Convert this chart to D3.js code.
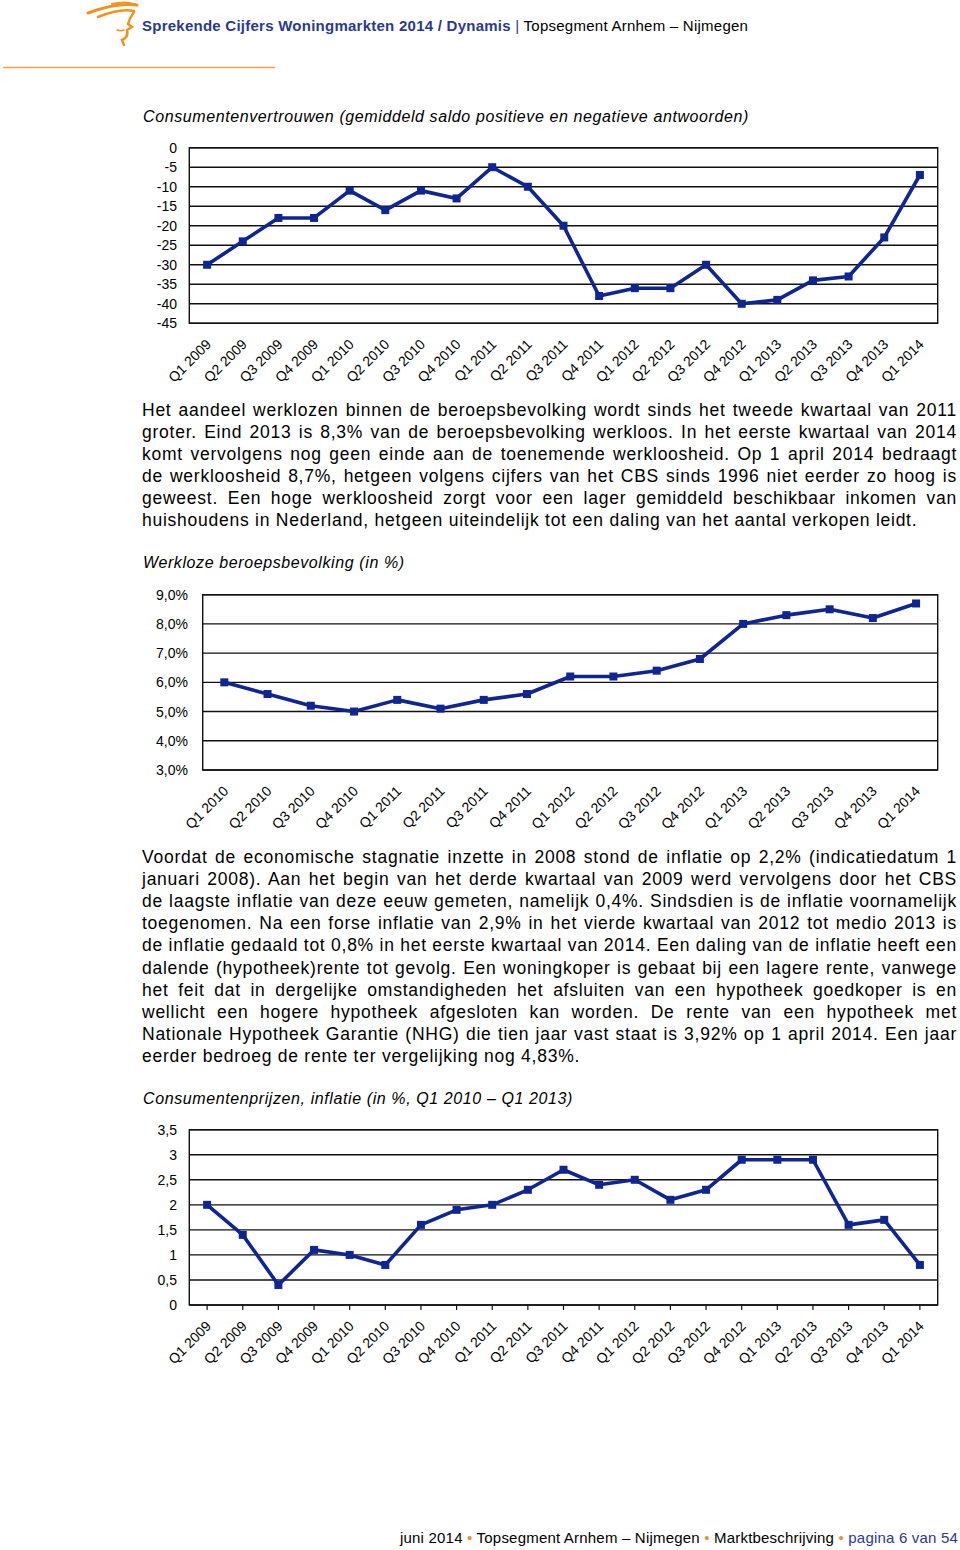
<!DOCTYPE html>
<html><head><meta charset="utf-8">
<script src="https://cdn.jsdelivr.net/npm/d3@7"></script>
<style>
html,body{margin:0;padding:0;background:#fff;}
svg{display:block;font-family:"Liberation Sans",Arial,sans-serif;}
</style></head>
<body>
<svg id="page" width="960" height="1550"></svg>
<script>
// ---------- data ----------
const quartersA = ["Q1 2009","Q2 2009","Q3 2009","Q4 2009","Q1 2010","Q2 2010","Q3 2010","Q4 2010","Q1 2011","Q2 2011","Q3 2011","Q4 2011","Q1 2012","Q2 2012","Q3 2012","Q4 2012","Q1 2013","Q2 2013","Q3 2013","Q4 2013","Q1 2014"];
const vertrouwen = [-30,-24,-18,-18,-11,-16,-11,-13,-5,-10,-20,-38,-36,-36,-30,-40,-39,-34,-33,-23,-7];
const vertrouwenTicks = [0,-5,-10,-15,-20,-25,-30,-35,-40,-45];

const quartersB = ["Q1 2010","Q2 2010","Q3 2010","Q4 2010","Q1 2011","Q2 2011","Q3 2011","Q4 2011","Q1 2012","Q2 2012","Q3 2012","Q4 2012","Q1 2013","Q2 2013","Q3 2013","Q4 2013","Q1 2014"];
const werkloos = [6.0,5.6,5.2,5.0,5.4,5.1,5.4,5.6,6.2,6.2,6.4,6.8,8.0,8.3,8.5,8.2,8.7];
const werkloosTicks = [3,4,5,6,7,8,9];

const inflatie = [2.0,1.4,0.4,1.1,1.0,0.8,1.6,1.9,2.0,2.3,2.7,2.4,2.5,2.1,2.3,2.9,2.9,2.9,1.6,1.7,0.8];
const inflatieTicks = [0,0.5,1,1.5,2,2.5,3,3.5];

const para1 = [
"Het aandeel werklozen binnen de beroepsbevolking wordt sinds het tweede kwartaal van 2011",
"groter. Eind 2013 is 8,3% van de beroepsbevolking werkloos. In het eerste kwartaal van 2014",
"komt vervolgens nog geen einde aan de toenemende werkloosheid. Op 1 april 2014 bedraagt",
"de werkloosheid 8,7%, hetgeen volgens cijfers van het CBS sinds 1996 niet eerder zo hoog is",
"geweest. Een hoge werkloosheid zorgt voor een lager gemiddeld beschikbaar inkomen van",
"huishoudens in Nederland, hetgeen uiteindelijk tot een daling van het aantal verkopen leidt."
];
const para2 = [
"Voordat de economische stagnatie inzette in 2008 stond de inflatie op 2,2% (indicatiedatum 1",
"januari 2008). Aan het begin van het derde kwartaal van 2009 werd vervolgens door het CBS",
"de laagste inflatie van deze eeuw gemeten, namelijk 0,4%. Sindsdien is de inflatie voornamelijk",
"toegenomen. Na een forse inflatie van 2,9% in het vierde kwartaal van 2012 tot medio 2013 is",
"de inflatie gedaald tot 0,8% in het eerste kwartaal van 2014. Een daling van de inflatie heeft een",
"dalende (hypotheek)rente tot gevolg. Een woningkoper is gebaat bij een lagere rente, vanwege",
"het feit dat in dergelijke omstandigheden het afsluiten van een hypotheek goedkoper is en",
"wellicht een hogere hypotheek afgesloten kan worden. De rente van een hypotheek met",
"Nationale Hypotheek Garantie (NHG) die tien jaar vast staat is 3,92% op 1 april 2014. Een jaar",
"eerder bedroeg de rente ter vergelijking nog 4,83%."
];

// ---------- page ----------
const svg = d3.select("#page");
const ORANGE = "#f0921e", NAVY = "#2b3990", LINE = "#0f2592";

// logo
const logo = svg.append("g").attr("fill","none").attr("stroke",ORANGE).attr("stroke-linecap","round");
logo.append("path").attr("d","M88,13 C104,7 122,3 137,5").attr("stroke-width",3);
logo.append("path").attr("d","M98,17 C110,12 124,9 134,11").attr("stroke-width",2.5);
logo.append("path").attr("d","M112,4 C120,2 130,2 137,5").attr("stroke-width",2);
logo.append("path").attr("d","M134,12 C131,16 129,20 128,24 L132,27 L127,30 C128,34 127,38 122,40 L124,45").attr("stroke-width",2.5);
logo.append("path").attr("d","M117,30 C120,31 122,31 124,30").attr("stroke-width",1.5);

const head = svg.append("text").attr("x",142).attr("y",31).attr("font-size",15).style("letter-spacing","0.25px");
head.append("tspan").attr("fill",NAVY).attr("font-weight","bold").text("Sprekende Cijfers Woningmarkten 2014 / Dynamis");
head.append("tspan").attr("fill",NAVY).text(" | ");
head.append("tspan").attr("fill","#000").text("Topsegment Arnhem – Nijmegen");
svg.append("line").attr("x1",3).attr("x2",275).attr("y1",67.5).attr("y2",67.5).attr("stroke","#f2a646").attr("stroke-width",1.5);

// footer
const foot = svg.append("text").attr("x",400).attr("y",1543).attr("font-size",15).attr("fill","#000").style("letter-spacing","0.2px");
foot.append("tspan").text("juni 2014 ");
foot.append("tspan").attr("fill",ORANGE).text("•");
foot.append("tspan").text(" Topsegment Arnhem – Nijmegen ");
foot.append("tspan").attr("fill",ORANGE).text("•");
foot.append("tspan").text(" Marktbeschrijving ");
foot.append("tspan").attr("fill",ORANGE).text("•");
foot.append("tspan").attr("fill",NAVY).text(" pagina 6 van 54");

// titles
function title(t, y){
  svg.append("text").attr("x",143).attr("y",y).attr("font-size",16).attr("font-style","italic")
    .style("letter-spacing","0.6px").text(t);
}
title("Consumentenvertrouwen (gemiddeld saldo positieve en negatieve antwoorden)",122);
title("Werkloze beroepsbevolking (in %)",568);
title("Consumentenprijzen, inflatie (in %, Q1 2010 – Q1 2013)",1104);

// justified paragraphs
function paragraph(lines, y0, lh){
  lines.forEach((t,i)=>{
    const el = svg.append("text").attr("x",142).attr("y",y0+i*lh).attr("font-size",17.5)
      .style("letter-spacing","0.75px").text(t);
    if(i < lines.length-1){
      const w = el.node().getComputedTextLength();
      const n = (t.match(/ /g)||[]).length;
      el.style("word-spacing", ((815-w)/n)+"px");
    }
  });
}
paragraph(para1, 416, 22);
paragraph(para2, 863, 22.1);

// charts
function chart(o){
  const g = svg.append("g");
  const x = d3.scaleBand().domain(o.cats).range([o.x0,o.x1]);
  const y = d3.scaleLinear().domain(o.domain).range([o.y1,o.y0]);
  g.selectAll(".grid").data(o.ticks).join("line")
    .attr("x1",o.x0).attr("x2",o.x1)
    .attr("y1",d=>y(d)).attr("y2",d=>y(d))
    .attr("stroke","#111").attr("stroke-width",1.4);
  g.append("rect").attr("x",o.x0).attr("y",o.y0).attr("width",o.x1-o.x0).attr("height",o.y1-o.y0)
    .attr("fill","none").attr("stroke","#111").attr("stroke-width",1.4);
  g.selectAll(".yl").data(o.ticks).join("text")
    .attr("x",o.labelX).attr("y",d=>y(d)).attr("dy","0.36em")
    .attr("text-anchor","end").attr("font-size",14).text(o.fmt);
  const ax = g.append("g").attr("transform",`translate(0,${o.y1})`)
    .call(d3.axisBottom(x).tickSize(o.tickMarks?5:0).tickSizeOuter(0));
  ax.select(".domain").remove();
  ax.selectAll(".tick line").attr("stroke","#111").attr("stroke-width",1.2);
  ax.selectAll(".tick text")
    .attr("font-family","Liberation Sans, Arial, sans-serif").attr("font-size",14).attr("fill","#000")
    .attr("text-anchor","end").attr("x",0).attr("y",0).attr("dy",0)
    .attr("transform","translate(5,22) rotate(-45)");
  const cx = d=>x(d)+x.bandwidth()/2;
  const pts = o.cats.map((c,i)=>[cx(c), y(o.vals[i])]);
  g.append("path").attr("d",d3.line()(pts)).attr("fill","none")
    .attr("stroke",LINE).attr("stroke-width",3.6).attr("stroke-linejoin","round");
  g.selectAll(".mk").data(pts).join("rect")
    .attr("x",d=>d[0]-4).attr("y",d=>d[1]-4).attr("width",8).attr("height",8).attr("fill",LINE);
}

chart({cats:quartersA, vals:vertrouwen, domain:[-45,0], ticks:vertrouwenTicks,
  fmt:d=>String(d), x0:189.3, x1:937.7, y0:147.7, y1:323.3, labelX:177, tickMarks:false});
chart({cats:quartersB, vals:werkloos, domain:[3,9], ticks:werkloosTicks,
  fmt:d=>d3.format(".1f")(d).replace(".",",")+"%", x0:202.7, x1:937.7, y0:594.7, y1:770, labelX:188, tickMarks:false});
chart({cats:quartersA, vals:inflatie, domain:[0,3.5], ticks:inflatieTicks,
  fmt:d=>String(d).replace(".",","), x0:189.3, x1:937.7, y0:1129.7, y1:1305, labelX:177, tickMarks:true});
</script>
</body></html>
